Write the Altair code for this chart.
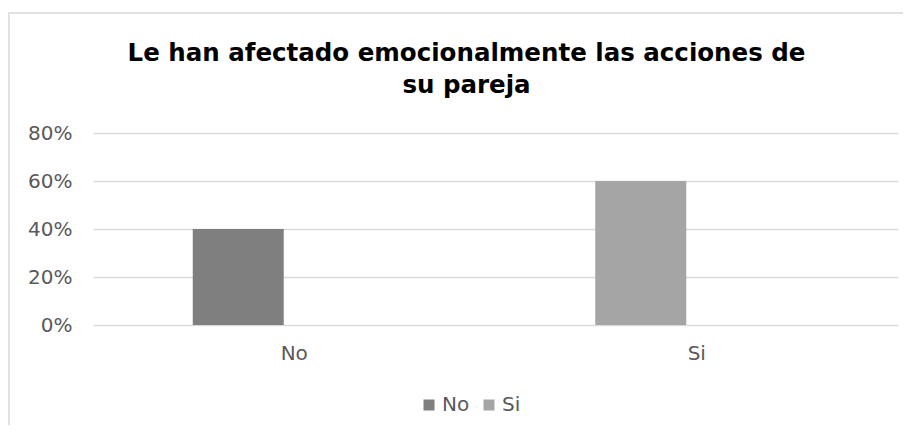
import altair as alt
import pandas as pd

categories = ["No", "Si"]
series = ["No", "Si"]
values = [0.40, 0.60]

title_lines = ["Le han afectado emocionalmente las acciones de", "su pareja"]
y_ticks = [0, 0.2, 0.4, 0.6, 0.8]

df = pd.DataFrame({"cat": categories, "serie": series, "val": values})

FONT = "DejaVu Sans"
GRAY = "#595959"

bars = alt.Chart(df).mark_bar(width=91, xOffset=-56).encode(
    x=alt.X("cat:N", sort=["No", "Si"],
            scale=alt.Scale(paddingInner=0, paddingOuter=0),
            axis=alt.Axis(title=None, labelAngle=0, ticks=False, domain=False, grid=False,
                          labelFontSize=20, labelColor=GRAY, labelFont=FONT,
                          labelPadding=18)),
    y=alt.Y("val:Q", scale=alt.Scale(domain=[0, 0.8], nice=False),
            axis=alt.Axis(title=None, values=y_ticks, format=".0%", ticks=False,
                          domain=False, gridColor="#d9d9d9", gridWidth=1.3,
                          labelFontSize=20, labelColor=GRAY, labelFont=FONT,
                          labelPadding=21)),
    color=alt.Color("serie:N", sort=["No", "Si"],
                    scale=alt.Scale(domain=["No", "Si"], range=["#7f7f7f", "#a5a5a5"]),
                    legend=alt.Legend(title=None, orient="none", direction="horizontal",
                                      legendX=326, legendY=262, symbolType="square",
                                      symbolSize=121, symbolStrokeWidth=0,
                                      labelFontSize=20, labelColor=GRAY, labelFont=FONT,
                                      labelOffset=3, columnPadding=9)),
)

border = alt.Chart(pd.DataFrame({"a": [0]})).mark_rect(
    fill="transparent", stroke="#d9d9d9", strokeWidth=1.5
).encode(x=alt.value(-84), x2=alt.value(930), y=alt.value(-120), y2=alt.value(400))

chart = alt.layer(border, bars).properties(
    width=805, height=192,
    background="white",
    autosize=alt.AutoSizeParams(type="none"),
    padding={"left": 85, "top": 125, "right": 5, "bottom": 100},
    title=alt.TitleParams(title_lines, font=FONT, fontSize=24.5, fontWeight="bold",
                          color="#000000", anchor="middle", dx=-29, dy=105, offset=0,
                          baseline="alphabetic", lineHeight=32),
).configure_view(stroke="transparent", strokeWidth=0)

chart.save("out.html", embed_options={"renderer": "svg", "actions": False})
